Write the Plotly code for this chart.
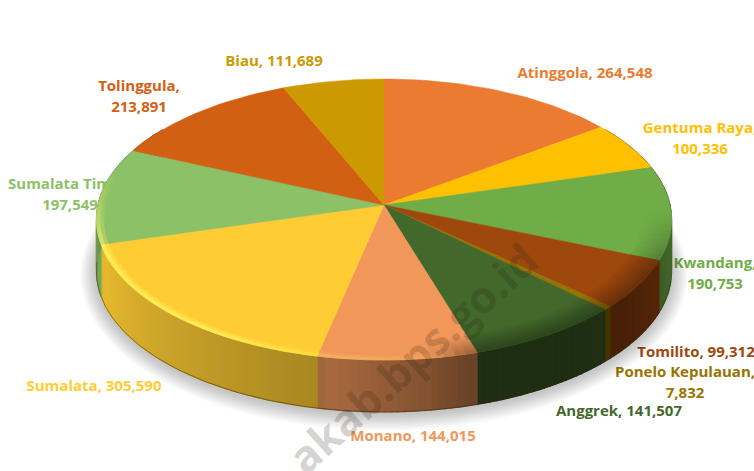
import numpy as np
import plotly.graph_objects as go

# ---- data ----
categories = ["Atinggola", "Gentuma Raya", "Kwandang", "Tomilito", "Ponelo Kepulauan", "Anggrek",
              "Monano", "Sumalata", "Sumalata Timur", "Tolinggula", "Biau"]
values = [264548, 100336, 190753, 99312, 7832, 141507, 144015, 305590, 197549, 213891, 111689]
colors = ["#EA7B31", "#FFC000", "#70AD47", "#9E480E", "#997300", "#43682B",
          "#F1975A", "#FFCD33", "#8CC168", "#D26012", "#CC9A00"]
label_breaks = [False, True, True, False, True, False, False, False, True, True, False]

# ---- layout of labels (pixel frame of the page) ----
label_x = [585, 700, 715, 696, 685, 619, 413, 94, 70, 139, 274]
label_y = [74, 139.5, 274.5, 353, 383.5, 412, 437, 387, 195.5, 97.5, 62]

W, H = 754, 471
CX, CY, A, K, P, DEPTH = 384, 205, 286, 139, 0.103, 52
LINE_GAP = 21


def proj(theta, r=1.0):
    u, v = r * np.sin(theta), r * np.cos(theta)
    d = 1 + P * v
    return CX + A * u / d, CY - K * v / d


def mix(c, t, f):
    return tuple(c[i] + (t[i] - c[i]) * f for i in range(3))


def hex2rgb(h):
    return tuple(int(h[i:i + 2], 16) for i in (1, 3, 5))


def css(c):
    return "rgb(%d,%d,%d)" % tuple(int(round(min(255, max(0, x)))) for x in c)


fig = go.Figure()


def poly(xs, ys, color, lw=0.8):
    fig.add_trace(go.Scatter(x=list(xs), y=list(ys), mode="lines", fill="toself", fillcolor=color,
                             line=dict(color=color, width=lw), hoverinfo="skip", showlegend=False))


# labels go first: the pie covers them
tx, ty, tt_, tc = [], [], [], []
for n, v, b, x, y, c in zip(categories, values, label_breaks, label_x, label_y, colors):
    if b:
        tx += [x, x]
        ty += [y - LINE_GAP / 2, y + LINE_GAP / 2]
        tt_ += [f"{n},", f"{v:,}"]
        tc += [c, c]
    else:
        tx.append(x)
        ty.append(y)
        tt_.append(f"{n}, {v:,}")
        tc.append(c)
fig.add_trace(go.Scatter(x=tx, y=ty, mode="text", text=tt_, textposition="middle center",
                         textfont=dict(family="Open Sans", size=15, color=tc, weight="bold"),
                         hoverinfo="skip", showlegend=False))

# soft shadow under the disc
t_all = np.linspace(0, 2 * np.pi, 181)
for i in range(10, 0, -1):
    x, y = proj(t_all)
    e = i * 1.6
    sx = CX + (x - CX) * (1 + e / A)
    sy = CY + DEPTH + 2 + (y - CY) * (1 + e / 150)
    poly(sx, sy, "rgba(0,0,0,0.024)", 0)

# slice angles from the values
frac = np.array(values) / sum(values)
edges = np.concatenate([[0], np.cumsum(frac)]) * 2 * np.pi

# side wall
side_t = np.radians([50, 90, 105, 130, 165, 172, 190, 192, 250, 275, 310])
side_f = [0.55, 0.62, 0.58, 0.45, 0.44, 0.54, 0.70, 0.66, 0.90, 0.75, 0.75]
for i in range(len(values)):
    a0, a1 = edges[i], edges[i + 1]
    lo, hi = max(a0, np.radians(55)), min(a1, np.radians(305))
    if hi <= lo:
        continue
    n = max(1, int(np.degrees(hi - lo) / 1.2))
    base = hex2rgb(colors[i])
    tt = np.linspace(lo, hi, n + 1)
    for j in range(n):
        ta, tb = tt[j], tt[j + 1]
        mid = (ta + tb) / 2
        f = np.interp(mid, side_t, side_f)
        xa, ya = proj(ta)
        xb, yb = proj(tb)
        poly([xa, xb, xb, xa, xa], [ya, yb, yb + DEPTH, ya + DEPTH, ya],
             css(tuple(c * f for c in base)), 1.2)

# dark rim at foot of the wall
tf = np.linspace(np.radians(100), np.radians(268), 120)
xf, yf = proj(tf)
fig.add_trace(go.Scatter(x=xf, y=yf + DEPTH, mode="lines", line=dict(color="rgba(50,40,20,0.5)", width=1),
                         hoverinfo="skip", showlegend=False))

# top face
for i in range(len(values)):
    tt = np.linspace(edges[i], edges[i + 1], max(3, int(np.degrees(edges[i + 1] - edges[i]) / 1.5)))
    x, y = proj(tt)
    poly(np.r_[CX, x, CX], np.r_[CY, y, CY], colors[i], 0.5)

# bevel on the front half of the top face: stacked rings give a soft fade
bev_t = np.radians([92, 118, 165, 172, 190, 215, 250, 268, 285])
bev_dark = [0.0, 0.32, 0.32, 0.0, 0.0, 0.0, 0.0, 0.0, 0.0]
bev_lite = [0.0, 0.0, 0.0, 0.08, 0.18, 0.5, 0.5, 0.22, 0.0]
radii = np.linspace(0.90, 1.0, 9)
for i in range(len(values)):
    lo, hi = max(edges[i], bev_t[0]), min(edges[i + 1], bev_t[-1])
    if hi <= lo:
        continue
    base = hex2rgb(colors[i])
    n = max(1, int(np.degrees(hi - lo) / 2))
    tt = np.linspace(lo, hi, n + 1)
    for j in range(n):
        mid = (tt[j] + tt[j + 1]) / 2
        d = np.interp(mid, bev_t, bev_dark)
        l = np.interp(mid, bev_t, bev_lite)
        for k in range(len(radii) - 1):
            r0, r1 = radii[k], radii[k + 1]
            s = (k + 1) / (len(radii) - 1)
            col = mix(base, (0, 0, 0), d * s)
            if k >= len(radii) - 3:
                col = mix(col, (255, 250, 100), l * (1.4 if k == len(radii) - 2 else 0.6))
            if d == 0 and k < len(radii) - 3:
                continue
            if col == base:
                continue
            x0, y0 = proj(tt[j:j + 2], r0)
            x1, y1 = proj(tt[j:j + 2], r1)
            poly(np.r_[x0, x1[::-1], x0[0]], np.r_[y0, y1[::-1], y0[0]], css(col), 0.7)

fig.add_annotation(x=412, y=358, xref="x", yref="y", text="<b>akab.bps.go.id</b>", textangle=-42, showarrow=False,
                   font=dict(family="Open Sans", size=44, color="rgba(40,30,20,0.2)"))

fig.update_layout(width=W, height=H, margin=dict(l=0, r=0, t=0, b=0), paper_bgcolor="white", plot_bgcolor="white",
                  xaxis=dict(range=[0, W], visible=False, fixedrange=True),
                  yaxis=dict(range=[H, 0], visible=False, fixedrange=True), showlegend=False)
fig.write_html("out.html", config={"displayModeBar": False},
               post_script="document.body.style.margin='0';document.body.style.overflow='hidden';")
